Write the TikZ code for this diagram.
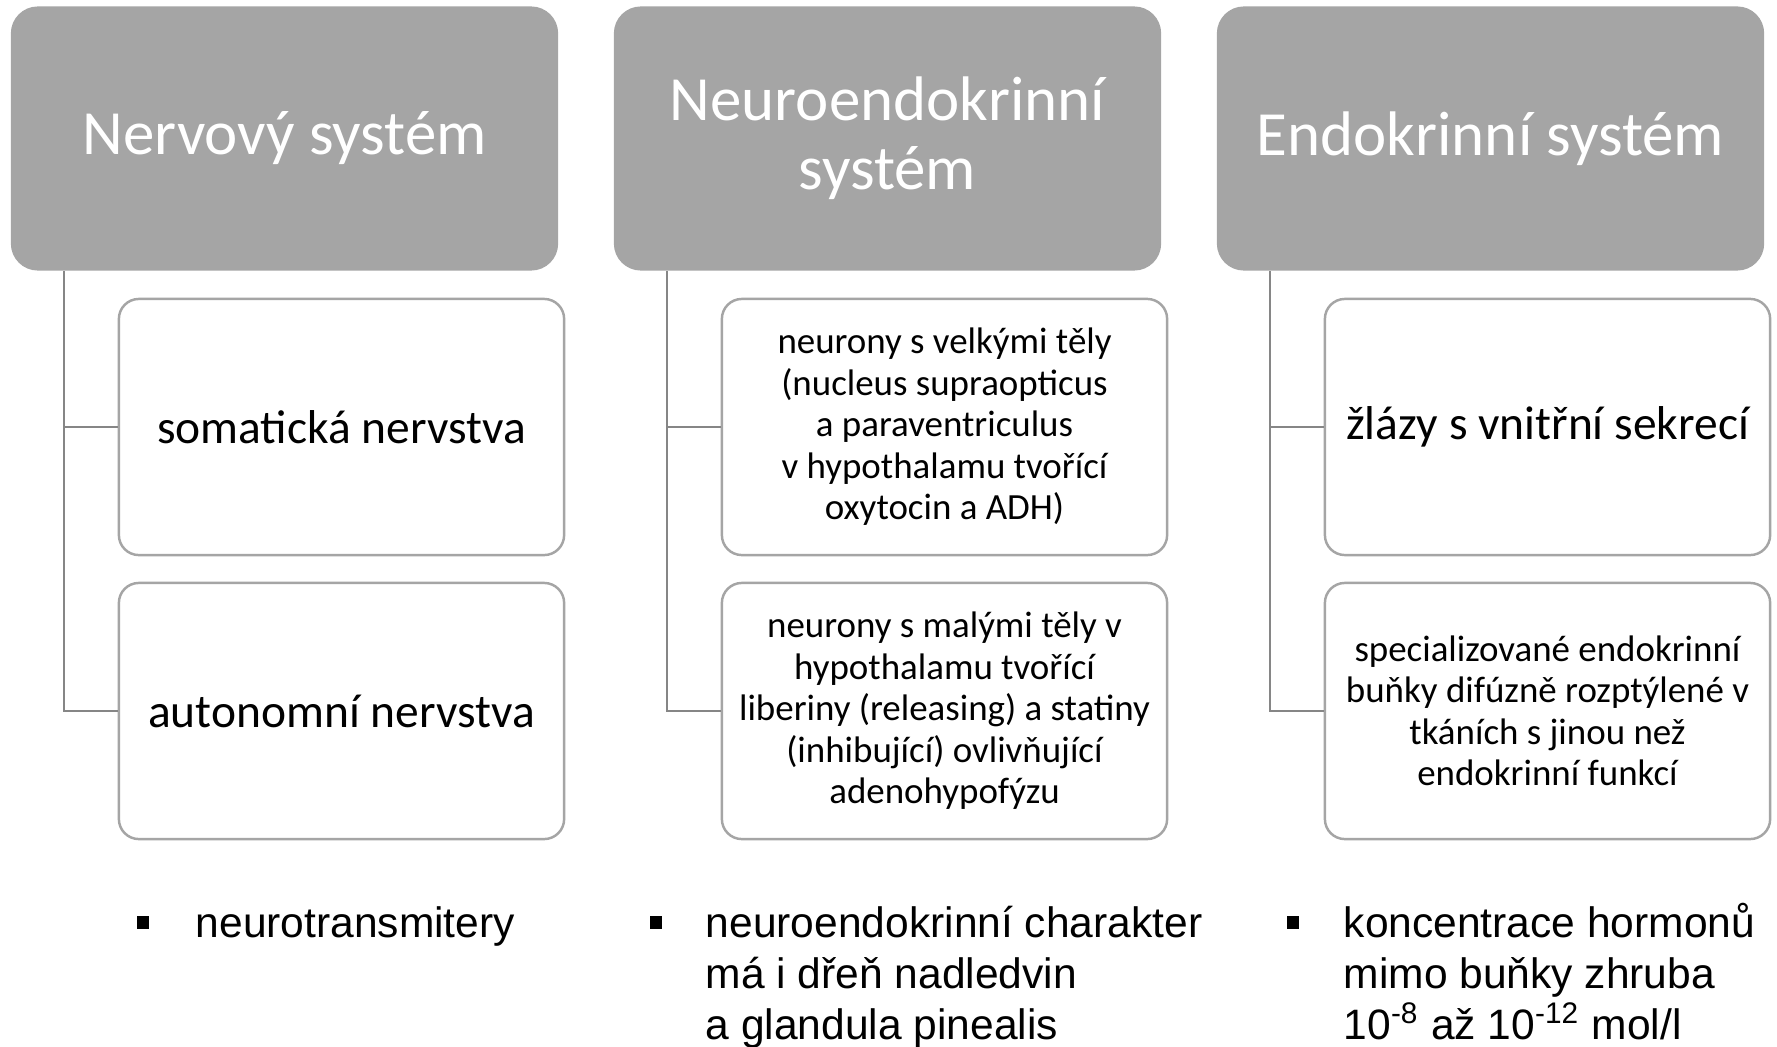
\documentclass[tikz,border=0pt]{standalone}
\usepackage{fontspec}
\setmainfont{Carlito}
\newfontfamily\arialfont{Liberation Sans}
\usetikzlibrary{calc}
\definecolor{headgray}{HTML}{A5A5A5}
\definecolor{linegray}{HTML}{868686}

\begin{document}
\begin{tikzpicture}[x=0.01cm, y=-0.01cm]
            \tikzstyle{head} = [draw=none, fill=headgray, text=white, rounded corners=2.7mm, minimum width=54.7mm, minimum height=26.4mm, align=center, font=\fontsize{17.9pt}{19.6pt}\selectfont]
            \tikzstyle{sub} = [draw=headgray, line width=0.7pt, fill=white, rounded corners=2mm, minimum width=44.5mm, minimum height=25.6mm, align=center, font=\fontsize{13.5pt}{15pt}\selectfont]
            \tikzstyle{subsmall} = [sub, font=\fontsize{10.5pt}{11.8pt}\selectfont]
            \tikzstyle{conn} = [draw=linegray, line width=0.7pt]
            \tikzstyle{bulletmark} = [fill=black, inner sep=0, minimum width=1.2mm, minimum height=1.3mm]
            \tikzstyle{item} = [anchor=base west, inner sep=0, align=left, font=\arialfont\fontsize{12.1pt}{14.5pt}\selectfont]
            \useasboundingbox (0, 0) rectangle (1777, 1046);
            % columns
            \node[head] (head1) at (284.5, 138.5) {Nervový systém};
            \node[head] (head2) at (887.5, 138.5) {Neuroendokrinní\\systém};
            \node[head] (head3) at (1490.5, 138.5) {Endokrinní systém};
            \node[sub] (sub1a) at (341.5, 427) {somatická nervstva};
            \node[sub] (sub1b) at (341.5, 711) {autonomní nervstva};
            \node[subsmall] (sub2a) at (944.5, 427) {neurony s velkými těly\\(nucleus supraopticus\\a paraventriculus\\v hypothalamu tvořící\\oxytocin a ADH)};
            \node[subsmall] (sub2b) at (944.5, 711) {neurony s malými těly v\\hypothalamu tvořící\\liberiny (releasing) a statiny\\(inhibující) ovlivňující\\adenohypofýzu};
            \node[sub] (sub3a) at (1547.5, 427) {žlázy s vnitřní sekrecí};
            \node[subsmall] (sub3b) at (1547.5, 711) {specializované endokrinní\\buňky difúzně rozptýlené v\\tkáních s jinou než\\endokrinní funkcí};
            % connectors
            \foreach \c in {1, 2, 3} {
                \draw[conn] ($(head\c.south west)+(54, 0)$) |- (sub\c a.west);
                \draw[conn] ($(head\c.south west)+(54, 0)$) |- (sub\c b.west);
            }
            % bullets (base of last line)
            \node[bulletmark] (mark1) at (143, 922) {};
            \node[item] (item1) at (195, 937) {neurotransmitery};
            \node[bulletmark] (mark2) at (656, 922) {};
            \node[item] (item2) at (705, 1039) {neuroendokrinní charakter\\má i dřeň nadledvin\\a glandula pinealis};
            \node[bulletmark] (mark3) at (1293, 922) {};
            \node[item] (item3) at (1343, 1039) {koncentrace hormonů\\mimo buňky zhruba\\10\textsuperscript{-8} až 10\textsuperscript{-12} mol/l};
        \end{tikzpicture}
\end{document}
